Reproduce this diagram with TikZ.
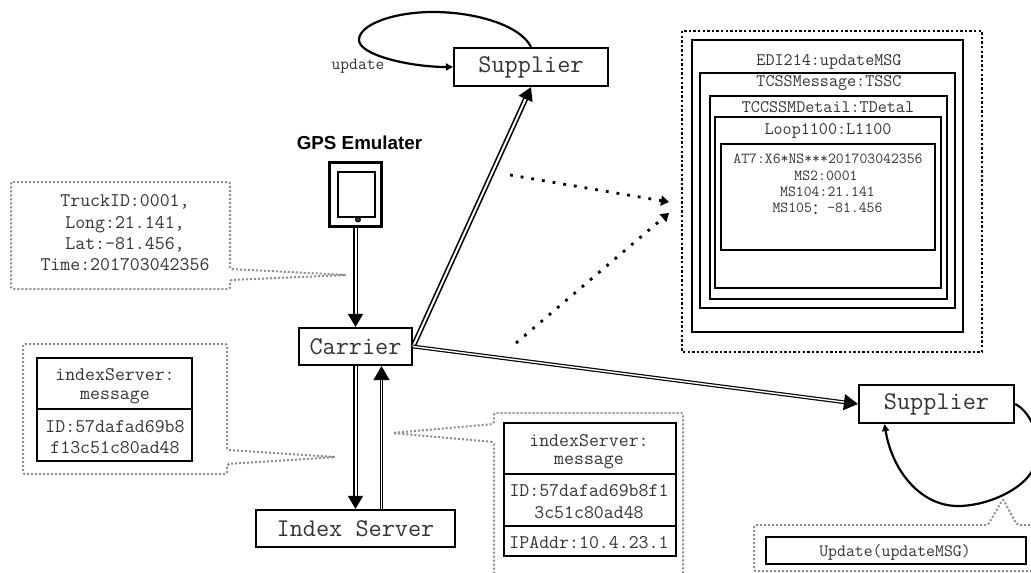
\documentclass[tikz,border=0pt]{standalone}
\usepackage{fontspec}
\usetikzlibrary{arrows.meta}
\newfontfamily\cjk{Noto Sans CJK SC}
\newcommand{\fsize}[1]{\ttfamily\fontsize{#1}{#1}\selectfont}
\tikzset{
    actor/.style={draw,line width=2.2pt,inner sep=0pt,text=black!80,font=\fsize{25.5}},
    msg/.style={text=black!80,inner sep=0pt,font=\fsize{19.3}},
    edi/.style={text=black!80,inner sep=0pt,font=\fsize{17.6}},
    seg/.style={text=black!80,inner sep=0pt,font=\fsize{15.3}},
    frame/.style={line width=2.2pt},
    callout/.style={draw=black!45,line width=2pt,dash pattern=on 2pt off 2pt,rounded corners=2pt},
    flow/.style={double,line width=1.6pt,double distance=2pt,-{Triangle[length=13pt,width=15pt]}},
    thinflow/.style={double,line width=1.2pt,double distance=1.4pt,-{Triangle[length=14pt,width=16pt]}},
    dots/.style={line width=2.8pt,dash pattern=on 2.8pt off 8pt,-{Triangle[length=8pt,width=10pt]}}
}
\begin{document}
\begin{tikzpicture}[x=1pt,y=-1pt]
    \useasboundingbox (0,0) rectangle (1031,573);
    \clip (0,0) rectangle (1031,573);

    % Main parties
    \node[actor,minimum width=154pt,minimum height=38pt] (supplierA) at (531,67) {Supplier};
    \node[actor,minimum width=113pt,minimum height=37pt] (carrier) at (355.5,346.5) {Carrier};
    \node[actor,minimum width=199pt,minimum height=37pt] (index) at (355.5,528.5) {Index Server};
    \node[actor,minimum width=155pt,minimum height=38pt] (supplierB) at (936.5,404) {Supplier};
    \node[inner sep=0pt,font=\fontspec{Liberation Sans}\bfseries\fontsize{18.8}{20}\selectfont] (gps) at (359.5,143) {GPS Emulater};

    % Tablet
    \node[draw,line width=3.5pt,minimum width=52pt,minimum height=64pt,inner sep=0pt] (tablet) at (355.5,194.5) {};
    \node[draw,line width=2.2pt,minimum width=37pt,minimum height=45pt,inner sep=0pt] (screen) at (356.5,194.5) {};
    \node[draw,fill=black!80,circle,line width=1pt,minimum size=5pt,inner sep=0pt] (button) at (358,219.5) {};

    % Arrows
    \draw[flow] (tablet.south) -- (carrier.north);
    \draw[flow] (carrier.south) -- (index.north);
    \draw[thinflow] ([xshift=26pt]index.north) -- ([xshift=26pt]carrier.south);
    \draw[flow] (carrier.east) -- (supplierA.south);
    \draw[thinflow] (carrier.east) -- (supplierB.west);

    % Update loops
    \draw[line width=2.2pt,-{Triangle[length=7pt,width=7pt]}] (supplierA.north) .. controls (520,25) and (475,12) .. (433,12)
        .. controls (395,12) and (359,24) .. (359,40)
        .. controls (359,55) and (410,67) .. (supplierA.west);
    \node[inner sep=0pt,text=black!80,font=\fsize{17}] (update) at (358,66) {update};
    \draw[line width=2.2pt,-{Triangle[length=7pt,width=7pt]}] (supplierB.east) .. controls (1032,412) and (1046,445) .. (1031,473)
        .. controls (1018,492) and (985,506) .. (958,506)
        .. controls (920,506) and (892,470) .. ([xshift=-52pt]supplierB.south);

    % Dotted arrows to the message
    \coordinate (dotsA) at (510,175);
    \coordinate (dotsB) at (516,343);
    \coordinate (dotsEnd) at (669,202);
    \coordinate (dotsEndB) at (669,213);
    \draw[dots] (dotsA) -- (dotsEnd);
    \draw[dots] (dotsB) -- (dotsEndB);

    % EDI message
    \draw[line width=2.4pt,dash pattern=on 2.4pt off 2.2pt] (682,31) rectangle (982,352);
    \draw[frame] (692,40) rectangle (963,332);
    \draw[frame] (700,73) rectangle (955,308);
    \draw[frame] (710,96) rectangle (947,299);
    \draw[frame] (715,117) rectangle (941,288);
    \draw[frame] (721,144) rectangle (935,250);
    \node[edi] (edi) at (829,62) {EDI214:updateMSG};
    \node[edi] (tcss) at (829,83) {TCSSMessage:TSSC};
    \node[edi] (tccssm) at (828,107) {TCCSSMDetail:TDetal};
    \node[edi] (loop) at (828,131) {Loop1100:L1100};
    \node[seg] (at7) at (828,159) {AT7:X6*NS***201703042356};
    \node[seg] (ms2) at (826,176) {MS2:0001};
    \node[seg] (ms104) at (827.5,192) {MS104:21.141};
    \node[seg] (ms105) at (827.5,209) {MS105\raisebox{-2pt}{\cjk ：}-81.456};

    % Truck callout
    \draw[callout] (11,182) -- (230,182) -- (230,269) -- (347,275) -- (230,280) -- (230,289) -- (11,289) -- cycle;
    \node[msg,align=center] (truck) at (125,233) {TruckID:0001,\\[2pt]Long:21.141,\\[2pt]Lat:-81.456,\\[2pt]Time:201703042356};

    % Left message table
    \draw[callout] (23,344) -- (227,344) -- (227,450) -- (336,457) -- (227,464) -- (227,474) -- (23,474) -- cycle;
    \draw[frame] (37,358) rectangle (192,461);
    \draw[frame] (37,409) -- (192,409);
    \node[msg] (idxA) at (115,375) {indexServer:};
    \node[msg] (msgA) at (115,397) {message};
    \node[msg] (idA) at (115,427) {ID:57dafad69b8};
    \node[msg] (hashA) at (115,448) {f13c51c80ad48};

    % Right message table
    \draw[callout] (494,442) -- (392,433) -- (494,424) -- (494,413) -- (683,413) -- (683,575) -- (494,575) -- cycle;
    \draw[frame] (504,423) rectangle (676,556);
    \draw[frame] (504,474) -- (676,474);
    \draw[frame] (504,526) -- (676,526);
    \node[msg] (idxB) at (589,441) {indexServer:};
    \node[msg] (msgB) at (589,462) {message};
    \node[msg] (idB) at (589,491) {ID:57dafad69b8f1};
    \node[msg] (hashB) at (589,513) {3c51c80ad48};
    \node[msg] (ip) at (589,543) {IPAddr:10.4.23.1};

    % Update callout
    \draw[callout] (754,525) -- (988,525) -- (1003,499) -- (1017,525) -- (1040,525) -- (1040,571) -- (754,571) -- cycle;
    \draw[frame] (766,537) rectangle (1026,564);
    \node[inner sep=0pt,text=black!80,font=\fsize{17.3}] (updmsg) at (895,552) {Update(updateMSG)};
\end{tikzpicture}
\end{document}
